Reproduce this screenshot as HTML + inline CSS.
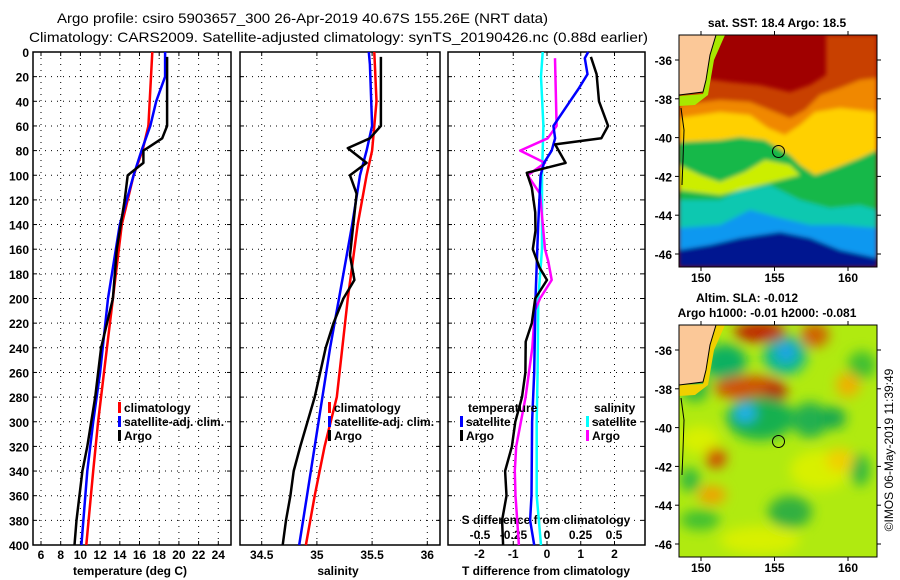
<!DOCTYPE html>
<html><head><meta charset="utf-8"><style>
html,body{margin:0;padding:0;background:#fff;width:900px;height:580px;overflow:hidden}
svg text{font-family:"Liberation Sans",Arial,sans-serif;}
.t{font-size:12px;font-weight:bold;fill:#000}
</style></head><body>
<svg id="chart" width="900" height="580" viewBox="0 0 900 580" xmlns="http://www.w3.org/2000/svg">
<defs>
<filter id="blur2" x="-10%" y="-10%" width="120%" height="120%"><feGaussianBlur stdDeviation="2"/></filter>
<filter id="blur6" x="-30%" y="-30%" width="160%" height="160%"><feGaussianBlur stdDeviation="6"/></filter>
<clipPath id="clipTop"><rect x="679" y="35" width="198" height="232"/></clipPath>
<clipPath id="clipBot"><rect x="679" y="325" width="198" height="232"/></clipPath>
</defs>
<text x="57" y="23" font-size="14" textLength="491" lengthAdjust="spacingAndGlyphs">Argo profile: csiro 5903657_300 26-Apr-2019 40.67S 155.26E (NRT data)</text>
<text x="29" y="42" font-size="14" textLength="619" lengthAdjust="spacingAndGlyphs">Climatology: CARS2009. Satellite-adjusted climatology: synTS_20190426.nc (0.88d earlier)</text>
<g id="g-plots"></g>

<!-- top SST map -->
<g clip-path="url(#clipTop)">
<rect x="679" y="35" width="198" height="232" fill="#a00000"/>
<g filter="url(#blur2)">
<path d="M679,80 L700,78 L730,82 L760,85 L790,92 L810,85 L826,75 L826,35 L877,35 L877,267 L679,267 Z" fill="#c84000"/>
<path d="M679,105 L720,100 L750,102 L770,110 L790,118 L805,110 L820,95 L840,88 L860,80 L877,78 L877,267 L679,267 Z" fill="#f08800"/>
<path d="M679,118 L720,112 L750,115 L768,128 L785,135 L800,125 L815,112 L840,108 L877,112 L877,267 L679,267 Z" fill="#ffd000"/>
<path d="M679,142 L720,140 L740,137 L765,140 L790,155 L800,165 L815,175 L835,168 L860,158 L877,150 L877,267 L679,267 Z" fill="#18b848"/>
<path d="M679,165 L700,175 L720,182 L745,172 L765,160 L790,165 L800,175 L760,185 L720,195 L679,190 Z" fill="#ccee00"/>
<path d="M679,200 L720,200 L740,190 L770,185 L800,200 L830,208 L860,205 L877,210 L877,267 L679,267 Z" fill="#10c8b0"/>
<path d="M679,228 L720,225 L750,210 L780,218 L810,225 L840,225 L877,228 L877,267 L679,267 Z" fill="#1098f0"/>
<path d="M679,250 L710,245 L740,238 L780,232 L810,238 L840,250 L877,258 L877,267 L679,267 Z" fill="#001890"/>
</g>
<path d="M679,96 L703,94 L706,80 L710,55 L716,35 L725,35 L714,60 L708,95 L695,105 L679,106 Z" fill="#a8e800"/>
<path d="M679,35 L716,35 L710,55 L706,80 L703,92 L679,95 Z" fill="#fbc898" stroke="#000" stroke-width="1"/>
<path d="M681,108 L684,130 L683,160 L682,185" fill="none" stroke="#000" stroke-width="1"/>
</g>
<rect x="679" y="35" width="198" height="232" fill="none" stroke="#000" stroke-width="1"/>
<circle cx="778.5" cy="151.5" r="6" fill="none" stroke="#000" stroke-width="1"/>
<text class="t" x="777" y="27" text-anchor="middle">sat. SST: 18.4 Argo: 18.5</text>

<!-- bottom SLA map -->
<g clip-path="url(#clipBot)">
<rect x="679" y="325" width="198" height="232" fill="#b0ea10"/>
<g filter="url(#blur6)">
<ellipse cx="700" cy="440" rx="20" ry="14" fill="#d8f000"/>
<ellipse cx="820" cy="470" rx="30" ry="20" fill="#d8f000"/>
<ellipse cx="760" cy="540" rx="40" ry="14" fill="#d8f000"/>
<ellipse cx="725" cy="362" rx="22" ry="18" fill="#10b060"/>
<ellipse cx="785" cy="355" rx="22" ry="20" fill="#10b890"/>
<ellipse cx="786" cy="352" rx="9" ry="9" fill="#20a0f0"/>
<ellipse cx="760" cy="332" rx="26" ry="10" fill="#c02000"/>
<ellipse cx="815" cy="335" rx="14" ry="12" fill="#d06000"/>
<ellipse cx="750" cy="388" rx="36" ry="12" fill="#d05000"/>
<ellipse cx="775" cy="393" rx="12" ry="8" fill="#b01000"/>
<ellipse cx="760" cy="418" rx="34" ry="22" fill="#18b050"/>
<ellipse cx="745" cy="413" rx="11" ry="9" fill="#20b0f0"/>
<ellipse cx="810" cy="420" rx="18" ry="18" fill="#20b050"/>
<ellipse cx="833" cy="418" rx="13" ry="11" fill="#18a850"/>
<ellipse cx="716" cy="458" rx="10" ry="10" fill="#d04000"/>
<ellipse cx="712" cy="495" rx="14" ry="9" fill="#f0a000"/>
<ellipse cx="700" cy="520" rx="20" ry="10" fill="#40c030"/>
<ellipse cx="790" cy="512" rx="22" ry="16" fill="#30b040"/>
<ellipse cx="860" cy="470" rx="10" ry="16" fill="#30b840"/>
<ellipse cx="690" cy="480" rx="10" ry="12" fill="#30b840"/>
<ellipse cx="862" cy="365" rx="14" ry="14" fill="#40c030"/>
<ellipse cx="848" cy="385" rx="12" ry="12" fill="#f0b000"/>
<ellipse cx="840" cy="460" rx="14" ry="12" fill="#f0d000"/>
<ellipse cx="695" cy="388" rx="14" ry="14" fill="#30b840"/>
</g>
<path d="M679,385 L703,384 L706,370 L710,345 L716,325 L725,325 L714,350 L708,385 L695,395 L679,396 Z" fill="#f0d000"/>
<path d="M679,325 L716,325 L710,345 L706,370 L703,382 L679,385 Z" fill="#fbc898" stroke="#000" stroke-width="1"/>
<path d="M681,398 L684,420 L683,450 L682,475" fill="none" stroke="#000" stroke-width="1"/>
</g>
<rect x="679" y="325" width="198" height="232" fill="none" stroke="#000" stroke-width="1"/>
<circle cx="778.5" cy="441.5" r="6" fill="none" stroke="#000" stroke-width="1"/>
<text class="t" x="747" y="302" text-anchor="middle">Altim. SLA: -0.012</text>
<text class="t" x="767" y="317" text-anchor="middle">Argo h1000: -0.01 h2000: -0.081</text>
<text x="893" y="450" font-size="12" text-anchor="middle" transform="rotate(-90 893 450)">©IMOS 06-May-2019 11:39:49</text>
<g id="g-maps"></g>
</svg>
<script>
// ---- data ----
const tempClimDepth = [0,60,80,100,140,200,260,300,340,400];
const tempClim      = [17.3,16.9,16.3,15.4,14.2,13.3,12.4,11.8,11.3,10.6];
const tempSatDepth  = [0,20,40,60,80,100,140,200,260,300,340,400];
const tempSat       = [18.6,18.6,17.7,17.1,16.2,15.4,14.0,12.8,12.0,11.3,10.7,10.1];
const tempArgoDepth = [4,60,70,78,80,90,100,120,160,200,240,280,320,340,380,400];
const tempArgo      = [18.8,18.8,18.3,16.8,16.4,16.4,14.8,14.5,13.7,13.3,12.1,11.5,10.7,10.2,9.6,9.4];

const salClimDepth = [0,40,80,100,140,200,280,320,360,400];
const salClim      = [35.52,35.54,35.50,35.45,35.37,35.28,35.18,35.07,34.98,34.90];
const salSatDepth  = [0,10,60,80,100,140,200,240,280,320,360,400];
const salSat       = [35.47,35.48,35.50,35.45,35.39,35.32,35.20,35.12,35.05,34.98,34.91,34.84];
const salArgoDepth = [4,60,70,78,90,100,115,165,185,200,220,240,280,320,340,360,380,400];
const salArgo      = [35.58,35.58,35.48,35.28,35.45,35.30,35.36,35.30,35.34,35.24,35.15,35.08,34.98,34.85,34.79,34.76,34.72,34.69];

const dTSatDepth  = [0,5,18,30,40,60,70,80,90,100,140,200,260,300,360,380,400];
const dTSat       = [1.22,1.12,1.2,0.93,0.68,0.19,0.24,0.14,-0.09,-0.19,-0.26,-0.34,-0.38,-0.44,-0.46,-0.5,-0.38];
const dTArgoDepth = [4,18,40,60,70,75,90,98,110,130,145,160,175,185,200,220,235,260,280,300,320,340,360,380,400];
const dTArgo      = [1.30,1.47,1.54,1.81,1.61,0.24,0.55,-0.60,-0.45,-0.35,-0.34,-0.42,-0.22,0.0,-0.35,-0.45,-0.63,-0.64,-0.74,-0.94,-1.04,-1.24,-1.20,-1.33,-1.30];
const dSSatDepth  = [0,20,60,100,160,200,260,300,360,400];
const dSSat       = [-0.032,-0.045,-0.027,-0.037,-0.037,-0.065,-0.07,-0.077,-0.077,-0.045];
const dSArgoDepth = [5,60,70,80,90,100,115,160,170,185,200,210,240,280,320,340,360,400];
const dSArgo      = [0.06,0.072,0.005,-0.20,-0.015,-0.144,-0.052,-0.015,0.01,0.035,-0.052,-0.09,-0.11,-0.16,-0.23,-0.24,-0.235,-0.21];

const depthTicks = [0,20,40,60,80,100,120,140,160,180,200,220,240,260,280,300,320,340,360,380,400];
const tempTicks = [6,8,10,12,14,16,18,20,22,24];
const salTicks = [34.5,35,35.5,36];
const salTickLabels = ["34.5","35","35.5","36"];
const dTTicks = [-2,-1,0,1,2];
const dSTicks = [-0.5,-0.25,0,0.25,0.5];
const dSTickLabels = ["-0.5","-0.25","0","0.25","0.5"];
const latTicks = [-36,-38,-40,-42,-44,-46];
const lonTicks = [150,155,160];

// ---- scales ----
const yD = d => 52 + d*1.2325;
const xT = v => 41 + (v-6)*(177.3/18);
const xS = v => 261.7 + (v-34.5)*110.4;
const xDT = v => 547 + v*33.75;
const xDS = v => 547 + v*134;
const NS = "http://www.w3.org/2000/svg";
const g = document.getElementById('g-plots');
function mk(tag, attrs, parent){const e=document.createElementNS(NS,tag);for(const k in attrs)e.setAttribute(k,attrs[k]);(parent||g).appendChild(e);return e;}
function txt(x,y,s,anchor,parent){const e=mk('text',{x:x,y:y,'class':'t','text-anchor':anchor||'middle'},parent);e.textContent=s;return e;}

const panels = [{x0:33,x1:231,name:'temperature-panel'},{x0:240,x1:440,name:'salinity-panel'},{x0:448,x1:645,name:'difference-panel'}];
panels.forEach((p,i)=>{
  const pg = mk('g',{});
  
  
  depthTicks.forEach(d=>{ if(d>0&&d<400) mk('line',{x1:p.x0,x2:p.x1,y1:yD(d),y2:yD(d),stroke:'#000','stroke-width':1,'stroke-dasharray':'1,5'},pg);
    mk('line',{x1:p.x0,x2:p.x0+4,y1:yD(d),y2:yD(d),stroke:'#000'},pg);
    mk('line',{x1:p.x1-4,x2:p.x1,y1:yD(d),y2:yD(d),stroke:'#000'},pg);});
  let vt = i==0?tempTicks.map(xT):i==1?salTicks.map(xS):dTTicks.map(xDT);
  vt.forEach(x=>{ mk('line',{x1:x,x2:x,y1:yD(0),y2:yD(400),stroke:'#000','stroke-dasharray':'1,5'},pg);
    mk('line',{x1:x,x2:x,y1:yD(0),y2:yD(0)+4,stroke:'#000'},pg);
    mk('line',{x1:x,x2:x,y1:yD(400)-4,y2:yD(400),stroke:'#000'},pg);});
  mk('rect',{x:p.x0,y:yD(0),width:p.x1-p.x0,height:yD(400)-yD(0),fill:'none',stroke:'#000','stroke-width':1.5},pg);
});
depthTicks.forEach(d=>{const e=txt(29,yD(d)+5,String(d),'end');
  
  });
tempTicks.forEach(v=>{const e=txt(xT(v),559,String(v));
  
  });
salTicks.forEach((v,k)=>{const e=txt(xS(v),559,salTickLabels[k]);
  
  });
dTTicks.forEach(v=>{const e=txt(xDT(v),558,String(v));
  
  });
dSTicks.forEach((v,k)=>{const e=txt(xDS(v),539,dSTickLabels[k]);
  
  });
let e;
e=txt(130,575,'temperature (deg C)');


e=txt(338,575,'salinity');


e=txt(546,575,'T difference from climatology');


e=txt(546,524,'S difference from climatology');



function series(xs, ds, xf, color, w, name){
  const pts = xs.map((v,k)=>xf(v).toFixed(1)+','+yD(ds[k]).toFixed(1)).join(' ');
  const l = mk('polyline',{points:pts,fill:'none',stroke:color,'stroke-width':w,'stroke-linejoin':'round'});
  
  
}
series(tempClim,tempClimDepth,xT,'#ff0000',2.5,'temperature-climatology-line');
series(tempSat,tempSatDepth,xT,'#0000ff',2.5,'temperature-satellite-line');
series(tempArgo,tempArgoDepth,xT,'#000000',2.5,'temperature-argo-line');
series(salClim,salClimDepth,xS,'#ff0000',2.5,'salinity-climatology-line');
series(salSat,salSatDepth,xS,'#0000ff',2.5,'salinity-satellite-line');
series(salArgo,salArgoDepth,xS,'#000000',2.5,'salinity-argo-line');
series(dSSat,dSSatDepth,xDS,'#00ffff',2.5,'s-diff-satellite-line');
series(dSArgo,dSArgoDepth,xDS,'#ff00ff',2.5,'s-diff-argo-line');
series(dTSat,dTSatDepth,xDT,'#0000ff',2.5,'t-diff-satellite-line');
series(dTArgo,dTArgoDepth,xDT,'#000000',2.5,'t-diff-argo-line');

function legend(x,y,color,label,name){
  const lg = mk('g',{});
  
  
  mk('rect',{x:x,y:y-10,width:3,height:11,fill:color},lg);
  txt(x+6,y,label,'start',lg);
}
legend(118,412,'#ff0000','climatology','legend-climatology');
legend(118,426,'#0000ff','satellite-adj. clim.','legend-satellite-adj');
legend(118,440,'#000000','Argo','legend-argo');
legend(328,412,'#ff0000','climatology','legend-climatology-sal');
legend(328,426,'#0000ff','satellite-adj. clim.','legend-satellite-adj-sal');
legend(328,440,'#000000','Argo','legend-argo-sal');
e=txt(468,412,'temperature','start');


e=txt(594,412,'salinity','start');


legend(460,426,'#0000ff','satellite','legend-t-satellite');
legend(460,440,'#000000','Argo','legend-t-argo');
legend(586,426,'#00ffff','satellite','legend-s-satellite');
legend(586,440,'#ff00ff','Argo','legend-s-argo');

// map axes
const gm = document.getElementById('g-maps');
const yLatTop = v => 60 + (-36 - v)*19.4;
const xLon = v => 701 + (v-150)*14.7;
[0,290].forEach((off,k)=>{
  latTicks.forEach(v=>{
    const y=yLatTop(v)+off;
    mk('line',{x1:679,x2:675,y1:y,y2:y,stroke:'#000'},gm);
    mk('line',{x1:877,x2:881,y1:y,y2:y,stroke:'#000'},gm);
    const t=txt(672,y+5,String(v),'end',gm);
    
    
  });
  lonTicks.forEach(v=>{
    const x=xLon(v);
    const yb = k==0?267:557, yt = k==0?35:325;
    mk('line',{x1:x,x2:x,y1:yb,y2:yb+4,stroke:'#000'},gm);
    mk('line',{x1:x,x2:x,y1:yt,y2:yt-4,stroke:'#000'},gm);
    const t=txt(x,yb+15,String(v),'middle',gm);
    
    
  });
});
</script>
</body></html>
